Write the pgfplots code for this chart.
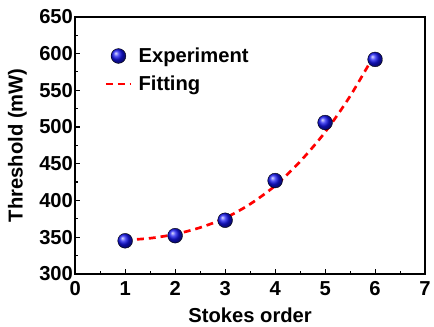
\documentclass[border=0pt]{standalone}
\usepackage{pgfplots}
\pgfplotsset{compat=1.18}
\usepackage{fontspec}
\setmainfont{Liberation Sans}
\pgfplotsset{
  markleg/.style={legend image code/.code={\draw[mark repeat=2,mark phase=2,##1] plot coordinates {(0cm,0cm) (0.45cm,0cm) (0.9cm,0cm)};\path (1.05cm,0cm);}},
  lineleg/.style={legend image code/.code={\draw[##1] (0cm,0cm) -- (0.9cm,0cm);\path (1.05cm,0cm);}},
}
\begin{document}
\begin{tikzpicture}
\begin{axis}[
  name=ax,
  scale only axis,
  width=354bp, height=260bp,
  xmin=0, xmax=7, ymin=300, ymax=650,
  xtick={0,1,...,7}, ytick={300,350,...,650},
  minor x tick num=1, minor y tick num=1,
  xtick pos=bottom, ytick pos=left,
  tick align=inside,
  major tick length=5bp, minor tick length=3bp,
  every tick/.style={black, line width=1.2bp},
  axis line style={line width=1.8bp},
  /pgf/number format/assume math mode=true,
  tick label style={font=\fontsize{20.5}{24}\selectfont\bfseries},
  label style={font=\fontsize{20.5}{24}\selectfont\bfseries},
  xlabel={Stokes order}, ylabel={Threshold (mW)},
  xticklabel style={yshift=-4bp},
  yticklabel style={inner sep=2bp},
  xlabel shift=6bp,
  ylabel shift=7bp,
  legend style={draw=none, fill=none, at={(0.075,0.895)}, anchor=north west,
    font=\fontsize{20.5}{24}\selectfont\bfseries, row sep=8bp},
  legend cell align=left,
]
\addplot[only marks, mark=ball, mark size=7.5bp, mark options={ball color={rgb,255:red,20;green,20;blue,240}}, markleg]
  coordinates {(1,345) (2,352) (3,373) (4,427) (5,506) (6,592)};
\addlegendentry{Experiment}
\addplot[red, line width=2.7bp, dash pattern=on 7bp off 5bp, smooth, no marks, lineleg]
  coordinates {(1,346) (1.5,348.5) (2,354) (2.5,363) (3,376) (3.5,395) (4,420) (4.5,453) (5,493) (5.5,542) (6,600)};
\addlegendentry{Fitting}
\end{axis}
\path (ax.south west) ++(-76bp,-48bp);
\path (ax.north east) ++(4bp,17bp);
\end{tikzpicture}
\end{document}
